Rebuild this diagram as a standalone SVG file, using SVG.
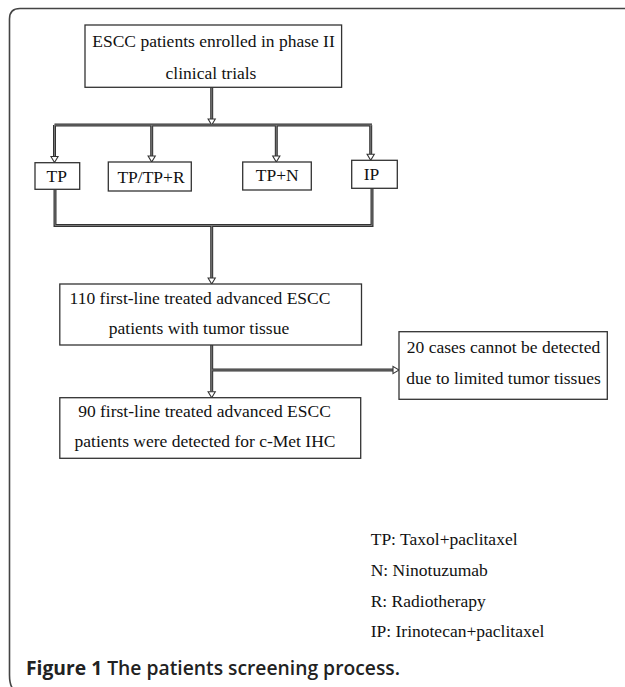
<svg xmlns="http://www.w3.org/2000/svg" width="625" height="687" viewBox="0 0 625 687">
<defs>
<style>
.box{fill:#fff;stroke:#333;stroke-width:1.3}
.t{font-family:"Liberation Serif","Times New Roman",serif;font-size:17.5px;fill:#111;text-anchor:middle}
.lg{font-family:"Liberation Serif","Times New Roman",serif;font-size:17.5px;fill:#111}
.c{fill:none;stroke:#333;stroke-width:3}
.ci{fill:none;stroke:#8a8a8a;stroke-width:0.8}
.cap{font-family:"Open Sans","Noto Sans","Liberation Sans",sans-serif;font-size:19.3px;fill:#222}
</style>
<marker id="ah" markerUnits="userSpaceOnUse" viewBox="-1 -5 8 10" markerWidth="8" markerHeight="10" refX="0" refY="0" orient="auto">
<path d="M0,-3.6 L6,0 L0,3.6 z" fill="#fff" stroke="#333" stroke-width="1.1"/>
</marker>
</defs>
<rect width="625" height="687" fill="#fff"/>
<path d="M625,8.5 H20 Q9.5,8.5 9.5,19 V675 Q9.5,686 14,690" fill="none" stroke="#444" stroke-width="1.6"/>

<g id="connectors">
<path class="c" d="M211.7,87.3 V119"/>
<path class="c" d="M54.5,125 H372"/>
<path class="c" d="M54.5,125 V156.5"/>
<path class="c" d="M151.7,125 V156"/>
<path class="c" d="M276.3,125 V156"/>
<path class="c" d="M370.7,125 V154.3"/>
<path class="c" d="M55,189.3 V225.5 H372 V188.3"/>
<path class="c" d="M211.7,225.5 V278"/>
<path class="c" d="M211.7,345 V391.7"/>
<path class="c" d="M211.7,370 H393"/>
<path class="ci" d="M211.7,87.3 V119" marker-end="url(#ah)"/>
<path class="ci" d="M54.5,125 H372"/>
<path class="ci" d="M54.5,125 V156.5" marker-end="url(#ah)"/>
<path class="ci" d="M151.7,125 V156" marker-end="url(#ah)"/>
<path class="ci" d="M276.3,125 V156" marker-end="url(#ah)"/>
<path class="ci" d="M370.7,125 V154.3" marker-end="url(#ah)"/>
<path class="ci" d="M55,189.3 V225.5 H372 V188.3"/>
<path class="ci" d="M211.7,225.5 V278" marker-end="url(#ah)"/>
<path class="ci" d="M211.7,345 V391.7" marker-end="url(#ah)"/>
<path class="ci" d="M211.7,370 H393" marker-end="url(#ah)"/>
</g>

<g id="n-enrolled">
<rect class="box" x="85" y="25" width="256.6" height="62.3"/>
<text class="t" x="213.5" y="46.5">ESCC patients enrolled in phase II</text>
<text class="t" x="211" y="78.5">clinical trials</text>
</g>
<g id="n-tp">
<rect class="box" x="35" y="162.7" width="44.7" height="26.6"/>
<text class="t" x="56.7" y="182">TP</text>
</g>
<g id="n-tptpr">
<rect class="box" x="108.3" y="162" width="83" height="29"/>
<text class="t" x="151" y="183">TP/TP+R</text>
</g>
<g id="n-tpn">
<rect class="box" x="242.7" y="162" width="68.6" height="28"/>
<text class="t" x="277.3" y="181">TP+N</text>
</g>
<g id="n-ip">
<rect class="box" x="351.7" y="160.3" width="45.6" height="28"/>
<text class="t" x="371.5" y="180">IP</text>
</g>
<g id="n-110">
<rect class="box" x="59.8" y="284" width="301.7" height="61"/>
<text class="t" x="200" y="304">110 first-line treated advanced ESCC</text>
<text class="t" x="199" y="333.5">patients with tumor tissue</text>
</g>
<g id="n-20">
<rect class="box" x="399" y="331.7" width="208.3" height="67.6"/>
<text class="t" x="503.5" y="353">20 cases cannot be detected</text>
<text class="t" x="503.5" y="383.5">due to limited tumor tissues</text>
</g>
<g id="n-90">
<rect class="box" x="59.8" y="397.7" width="300.9" height="60.6"/>
<text class="t" x="204.5" y="417">90 first-line treated advanced ESCC</text>
<text class="t" x="205" y="447">patients were detected for c-Met IHC</text>
</g>

<g id="legend">
<text class="lg" x="370.7" y="545">TP: Taxol+paclitaxel</text>
<text class="lg" x="370.7" y="575.5">N: Ninotuzumab</text>
<text class="lg" x="370.7" y="606.5">R: Radiotherapy</text>
<text class="lg" x="370.7" y="636.5">IP: Irinotecan+paclitaxel</text>
</g>
<text class="cap" x="26" y="675"><tspan font-weight="700">Figure 1</tspan><tspan font-weight="600"> The patients screening process.</tspan></text>
</svg>
